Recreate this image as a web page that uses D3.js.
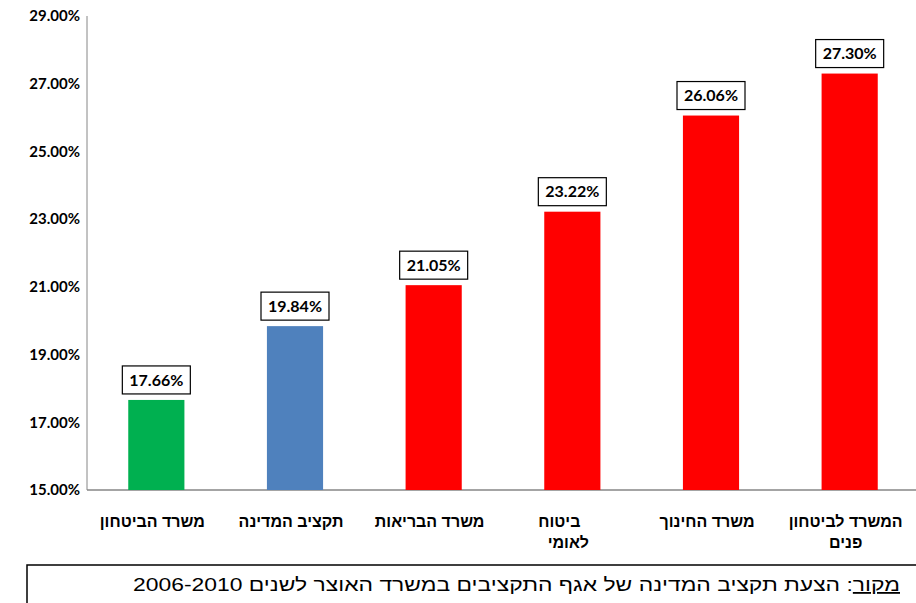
<!DOCTYPE html>
<html><head><meta charset="utf-8">
<script src="https://cdn.jsdelivr.net/npm/d3@7"></script>
<style>body{margin:0;background:#fff}svg{display:block}</style>
</head><body>
<svg id="c" width="916" height="603"></svg>
<script>
const categories = ["משרד הביטחון","תקציב המדינה","משרד הבריאות","ביטוח|לאומי","משרד החינוך","המשרד לביטחון|פנים"];
const values = [17.66, 19.84, 21.05, 23.22, 26.06, 27.30];
const colors = ["#00B050","#4F81BD","#FF0000","#FF0000","#FF0000","#FF0000"];
const yTicks = [15,17,19,21,23,25,27,29];
const source = "הצעת תקציב המדינה של אגף התקציבים במשרד האוצר לשנים 2006-2010";

(function(){
const svg = d3.select("#c");
const numFont = "Lato, 'Open Sans', sans-serif";
const hebFont = "'Liberation Sans', Arial, sans-serif";
const pL = 87, pR = 919, pT = 16, pB = 490;

const x = d3.scaleBand().domain(d3.range(categories.length)).range([pL, pR]).paddingInner(0.595).paddingOuter(0.2975);
const y = d3.scaleLinear().domain([15, 29]).range([pB, pT]);

svg.append("line").attr("x1", pL).attr("x2", pL).attr("y1", pT).attr("y2", pB).attr("stroke", "#868686").attr("stroke-width", 1);
svg.append("line").attr("x1", pL).attr("x2", 916).attr("y1", pB).attr("y2", pB).attr("stroke", "#868686").attr("stroke-width", 1.3);

svg.selectAll(".yt").data(yTicks).enter().append("text")
  .attr("x", 80).attr("y", d => y(d)).attr("dy", "0.35em")
  .attr("text-anchor", "end").attr("font-family", numFont).attr("font-weight", "bold")
  .attr("font-size", 15).attr("fill", "#000").text(d => d.toFixed(2) + "%");

svg.selectAll(".bar").data(values).enter().append("rect")
  .attr("x", (d, i) => x(i)).attr("width", x.bandwidth())
  .attr("y", d => y(d)).attr("height", d => pB - y(d))
  .attr("fill", (d, i) => colors[i]);

const lab = svg.selectAll(".lab").data(values).enter().append("g");
lab.append("rect")
  .attr("x", (d, i) => x(i) + x.bandwidth() / 2 - 34).attr("width", 68)
  .attr("y", d => y(d) - 34).attr("height", 28)
  .attr("fill", "#fff").attr("stroke", "#000").attr("stroke-width", 1.2);
lab.append("text")
  .attr("x", (d, i) => x(i) + x.bandwidth() / 2).attr("y", d => y(d) - 20).attr("dy", "0.36em")
  .attr("text-anchor", "middle").attr("font-family", numFont).attr("font-weight", "bold")
  .attr("font-size", 16).attr("fill", "#000").text(d => d.toFixed(2) + "%");

categories.forEach((c, i) => {
  const lines = c.split("|");
  const t = svg.append("text").attr("text-anchor", "middle").attr("direction", "rtl")
    .attr("font-family", hebFont).attr("font-weight", "bold").attr("font-size", 16).attr("fill", "#000");
  lines.forEach((l, j) => {
    const shift = (i === 3 && j === 0) ? -9 : 0;
    t.append("tspan").attr("x", x(i) + x.bandwidth() / 2 - 4 + shift).attr("y", 527 + j * 21).text(l);
  });
});

svg.append("rect").attr("x", 27).attr("y", 565).attr("width", 900).attr("height", 50)
  .attr("fill", "#fff").attr("stroke", "#000").attr("stroke-width", 1.5);
const st = svg.append("text").attr("x", 900).attr("y", 591).attr("text-anchor", "start").attr("direction", "rtl")
  .attr("font-family", hebFont).attr("font-size", 18).attr("fill", "#000")
  .attr("textLength", 767).attr("lengthAdjust", "spacingAndGlyphs");
st.append("tspan").attr("text-decoration", "underline").text("מקור");
st.append("tspan").text(": " + source);
})();
</script>
</body></html>
